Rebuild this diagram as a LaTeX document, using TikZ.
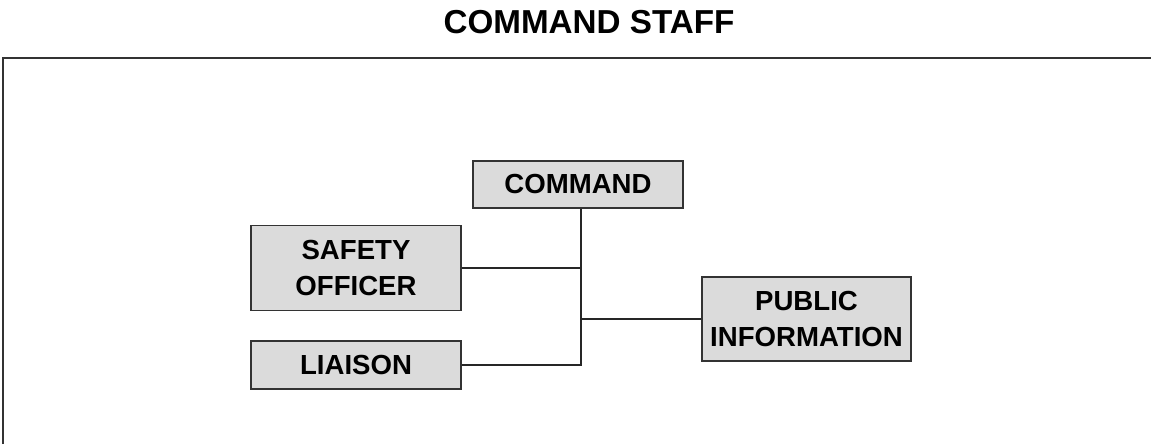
\documentclass[tikz,border=0pt]{standalone}
\usepackage{fontspec}
\setmainfont{Liberation Sans}
\usepackage{tikz}
\usetikzlibrary{positioning,calc}

\begin{document}
\begin{tikzpicture}[
    % --- Node styles ---
    unit/.style={draw=black!80, line width=0.9pt, fill=black!14, rectangle,
      minimum width=4.2cm, inner sep=0pt, align=center,
      font=\fontsize{15.7}{20.9}\selectfont\bfseries},
    heading/.style={font=\fontsize{18.9}{22}\selectfont\bfseries},
    % --- Line styles ---
    link/.style={draw=black!85, line width=0.9pt},
    frame/.style={draw=black!80, line width=0.9pt},
]
\useasboundingbox (0,0) rectangle (23.02,8.88);

% === Title and frame ===
\node[heading] (title) at (11.78, 8.43) {COMMAND STAFF};
\draw[frame] (0.06, 0) -- (0.06, 7.72) -- (23.02, 7.72);

% === The units ===
\node[unit, minimum height=0.94cm] (cmd) at (11.56, 5.19) {COMMAND};
\node[unit, minimum height=1.7cm] (saf) at (7.12, 3.52) {SAFETY\\OFFICER};
\node[unit, minimum height=0.96cm] (lia) at (7.12, 1.58) {LIAISON};
\node[unit, minimum width=4.18cm, minimum height=1.68cm] (pub) at (16.13, 2.5)
  {PUBLIC\\INFORMATION};

% === Connectors ===
\coordinate (bus) at (11.62, 0);
\draw[link] (bus |- cmd.south) -- (bus |- lia.east) -- (lia.east);
\draw[link] (saf.east) -- (bus |- saf.east);
\draw[link] (pub.west) -- (bus |- pub.west);

\end{tikzpicture}
\end{document}
